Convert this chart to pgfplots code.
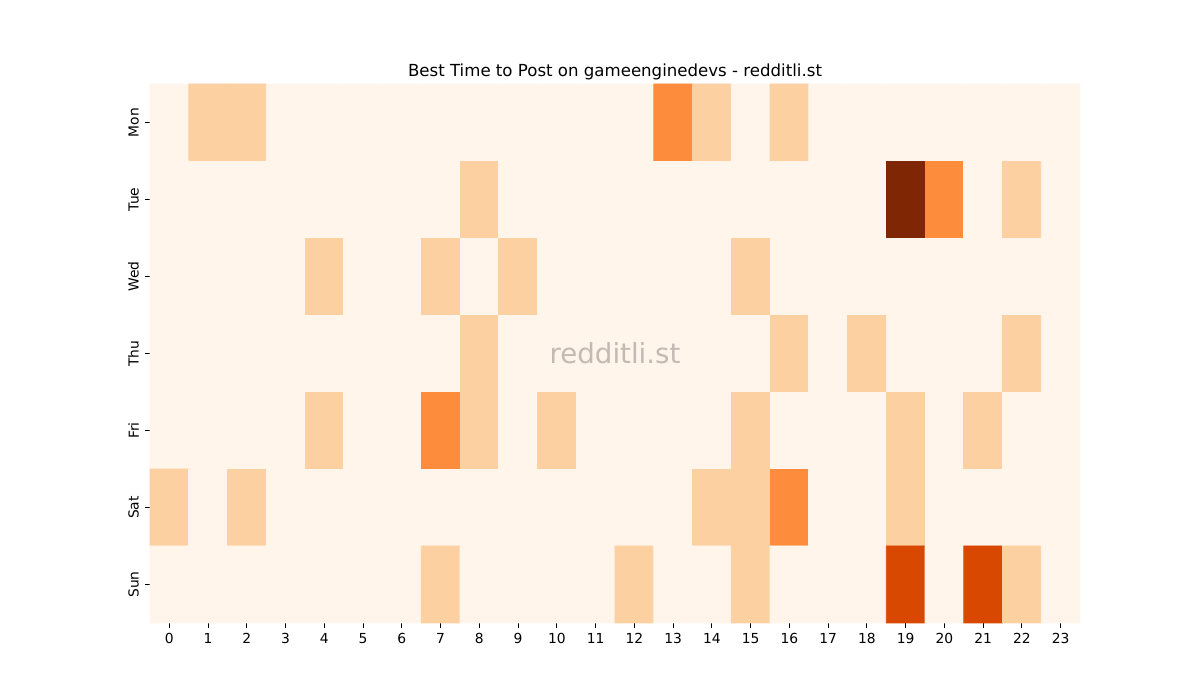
\documentclass[border=0pt]{standalone}
\usepackage{pgfplots}
\pgfplotsset{compat=1.18}
\usepackage{fontspec}
\setmainfont{DejaVu Sans}
\usetikzlibrary{calc}
\definecolor{wm}{RGB}{196,186,179}
\pgfplotstableread[row sep=\\]{
x y c\\
0 6 0\\ 1 6 1\\ 2 6 1\\ 3 6 0\\ 4 6 0\\ 5 6 0\\ 6 6 0\\ 7 6 0\\ 8 6 0\\ 9 6 0\\ 10 6 0\\ 11 6 0\\ 12 6 0\\ 13 6 2\\ 14 6 1\\ 15 6 0\\ 16 6 1\\ 17 6 0\\ 18 6 0\\ 19 6 0\\ 20 6 0\\ 21 6 0\\ 22 6 0\\ 23 6 0\\
0 5 0\\ 1 5 0\\ 2 5 0\\ 3 5 0\\ 4 5 0\\ 5 5 0\\ 6 5 0\\ 7 5 0\\ 8 5 1\\ 9 5 0\\ 10 5 0\\ 11 5 0\\ 12 5 0\\ 13 5 0\\ 14 5 0\\ 15 5 0\\ 16 5 0\\ 17 5 0\\ 18 5 0\\ 19 5 4\\ 20 5 2\\ 21 5 0\\ 22 5 1\\ 23 5 0\\
0 4 0\\ 1 4 0\\ 2 4 0\\ 3 4 0\\ 4 4 1\\ 5 4 0\\ 6 4 0\\ 7 4 1\\ 8 4 0\\ 9 4 1\\ 10 4 0\\ 11 4 0\\ 12 4 0\\ 13 4 0\\ 14 4 0\\ 15 4 1\\ 16 4 0\\ 17 4 0\\ 18 4 0\\ 19 4 0\\ 20 4 0\\ 21 4 0\\ 22 4 0\\ 23 4 0\\
0 3 0\\ 1 3 0\\ 2 3 0\\ 3 3 0\\ 4 3 0\\ 5 3 0\\ 6 3 0\\ 7 3 0\\ 8 3 1\\ 9 3 0\\ 10 3 0\\ 11 3 0\\ 12 3 0\\ 13 3 0\\ 14 3 0\\ 15 3 0\\ 16 3 1\\ 17 3 0\\ 18 3 1\\ 19 3 0\\ 20 3 0\\ 21 3 0\\ 22 3 1\\ 23 3 0\\
0 2 0\\ 1 2 0\\ 2 2 0\\ 3 2 0\\ 4 2 1\\ 5 2 0\\ 6 2 0\\ 7 2 2\\ 8 2 1\\ 9 2 0\\ 10 2 1\\ 11 2 0\\ 12 2 0\\ 13 2 0\\ 14 2 0\\ 15 2 1\\ 16 2 0\\ 17 2 0\\ 18 2 0\\ 19 2 1\\ 20 2 0\\ 21 2 1\\ 22 2 0\\ 23 2 0\\
0 1 1\\ 1 1 0\\ 2 1 1\\ 3 1 0\\ 4 1 0\\ 5 1 0\\ 6 1 0\\ 7 1 0\\ 8 1 0\\ 9 1 0\\ 10 1 0\\ 11 1 0\\ 12 1 0\\ 13 1 0\\ 14 1 1\\ 15 1 1\\ 16 1 2\\ 17 1 0\\ 18 1 0\\ 19 1 1\\ 20 1 0\\ 21 1 0\\ 22 1 0\\ 23 1 0\\
0 0 0\\ 1 0 0\\ 2 0 0\\ 3 0 0\\ 4 0 0\\ 5 0 0\\ 6 0 0\\ 7 0 1\\ 8 0 0\\ 9 0 0\\ 10 0 0\\ 11 0 0\\ 12 0 1\\ 13 0 0\\ 14 0 0\\ 15 0 1\\ 16 0 0\\ 17 0 0\\ 18 0 0\\ 19 0 3\\ 20 0 0\\ 21 0 3\\ 22 0 1\\ 23 0 0\\
}\heat
\begin{document}
\begin{tikzpicture}
\begin{axis}[
  name=ax,
  scale only axis,
  width=9.3in, height=5.39in,
  xmin=-0.5, xmax=23.5, ymin=-0.5, ymax=6.5,
  colormap={oranges}{rgb255=(255,245,235) rgb255=(253,208,162) rgb255=(253,141,60) rgb255=(217,72,1) rgb255=(127,39,4)},
  point meta min=0, point meta max=4,
  axis line style={draw=none},
  tick pos=left,
  tick align=outside,
  major tick length=3.5bp,
  every tick/.style={black, line width=0.8bp},
  xtick={0,...,23},
  ytick={0,...,6},
  yticklabels={Sun,Sat,Fri,Thu,Wed,Tue,Mon},
  /pgf/number format/assume math mode=true,
  tick label style={font=\fontsize{10}{12}\selectfont},
  yticklabel style={rotate=90, anchor=south, inner sep=0pt, yshift=4.4bp},
  xticklabel style={anchor=north, inner sep=0pt, yshift=-3.5bp},
  title={Best Time to Post on gameenginedevs - redditli.st},
  title style={font=\fontsize{12}{14}\selectfont, anchor=base, at={(0.5,1)}, yshift=-0.4bp, inner sep=0pt},
  clip=false,
]
\addplot[matrix plot*, mesh/cols=24, point meta=explicit] table[x=x, y=y, meta=c] {\heat};
\node[font=\fontsize{20}{24}\selectfont, text=wm] at (axis cs:11.5,3) {redditli.st};
\end{axis}
\pgfresetboundingbox
\path[use as bounding box] ($(ax.south west)+(-1.5in,-0.77in)$) rectangle ($(ax.north east)+(1.2in,0.84in)$);
\end{tikzpicture}
\end{document}
